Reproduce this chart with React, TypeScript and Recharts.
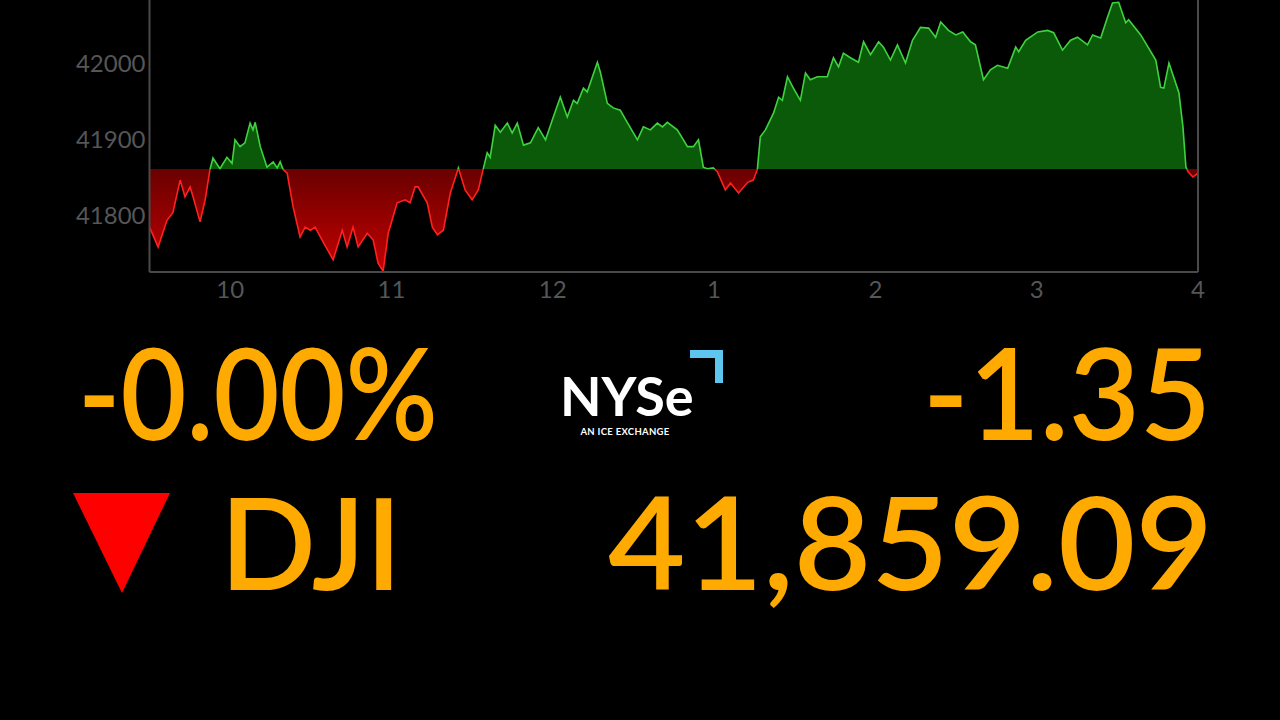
import React from 'react';
import { AreaChart, Area, XAxis, YAxis, ReferenceLine } from 'recharts';

// minutes since 9:30 open
const TIMES = [
  0, 3.2, 6.5, 8.7, 11.4, 13.2, 15.1, 16.2, 18.8, 20.7, 22.5, 23.6, 26.2, 28.8, 30.7, 31.8, 33.7, 35.5, 37.4, 38.5,
  39.3, 41.2, 43.7, 46.0, 47.5, 48.6, 49.7, 51.2, 53.4, 56.0, 57.9, 59.8, 61.6, 64.2, 68.3, 71.7, 73.5, 75.7, 77.6, 81.0,
  83.2, 85.0, 86.9, 88.8, 92.1, 95.1, 96.9, 98.8, 99.9, 103.3, 105.2, 107.1, 109.3, 111.9, 114.9, 117.4, 120.0, 122.3, 124.1, 125.6,
  126.7, 128.6, 130.5, 133.1, 134.9, 136.8, 139.1, 141.7, 144.6, 147.3, 150.2, 152.8, 155.4, 157.7, 159.1, 161.4, 162.8, 166.6, 167.7, 170.3,
  172.5, 175.1, 177.7, 181.5, 183.7, 186.3, 188.9, 190.8, 192.6, 196.3, 198.6, 200.1, 202.3, 204.2, 206.0, 207.5, 209.7, 211.2, 214.2, 216.1,
  219.1, 222.5, 224.6, 226.1, 227.2, 229.1, 232.1, 234.0, 235.4, 237.3, 239.5, 242.1, 244.0, 245.8, 248.4, 252.1, 254.4, 256.3, 258.1, 260.7,
  263.7, 265.6, 268.2, 271.2, 273.0, 275.6, 278.2, 281.2, 283.8, 286.8, 289.8, 292.4, 294.3, 297.2, 299.9, 302.5, 305.4, 307.2, 310.2, 312.8,
  315.4, 319.2, 322.2, 323.3, 325.9, 330.4, 334.1, 336.3, 339.6, 342.6, 345.2, 348.9, 350.8, 353.8, 356.4, 358.2, 360.5, 363.1, 364.2, 368.7,
  374.3, 376.1, 377.3, 379.2, 382.9, 384.4, 385.5, 386.3, 388.1, 390,
];

const VALUES = [
  41784, 41758, 41793, 41803, 41846, 41824, 41837, 41824, 41791, 41820, 41860, 41875, 41861, 41876, 41868, 41899, 41890, 41895, 41921, 41912,
  41922, 41890, 41863, 41870, 41862, 41870, 41860, 41855, 41811, 41771, 41784, 41780, 41784, 41767, 41741, 41780, 41758, 41784, 41758, 41776,
  41767, 41737, 41726, 41776, 41816, 41820, 41816, 41837, 41837, 41816, 41784, 41774, 41780, 41829, 41862, 41833, 41820, 41833, 41860, 41882,
  41876, 41918, 41909, 41921, 41908, 41921, 41892, 41895, 41915, 41899, 41929, 41955, 41929, 41951, 41947, 41967, 41962, 42001, 41988, 41947,
  41941, 41938, 41922, 41899, 41916, 41912, 41921, 41916, 41922, 41912, 41899, 41890, 41890, 41899, 41863, 41861, 41862, 41857, 41833, 41842,
  41829, 41843, 41846, 41860, 41903, 41912, 41934, 41955, 41951, 41982, 41967, 41951, 41987, 41978, 41982, 41982, 42007, 41995, 42013, 42007,
  42001, 42028, 42011, 42028, 42021, 42004, 42024, 42000, 42030, 42047, 42046, 42034, 42054, 42043, 42037, 42041, 42028, 42024, 41978, 41991,
  41997, 41993, 42021, 42015, 42030, 42041, 42043, 42040, 42017, 42030, 42034, 42024, 42037, 42033, 42061, 42079, 42080, 42053, 42057, 42037,
  42004, 41968, 41967, 42000, 41961, 41916, 41863, 41857, 41850, 41855,
];

const PREV_CLOSE = 41860.44;
const Y_DOMAIN = [41725, 42083];
const Y_TICKS = [41800, 41900, 42000];
const X_TICKS = [30, 90, 150, 210, 270, 330, 390];
const X_LABELS = ['10', '11', '12', '1', '2', '3', '4'];

const PCT_CHANGE = '-0.00%';
const NET_CHANGE = '-1.35';
const SYMBOL = 'DJI';
const LAST_PRICE = '41,859.09';

const data = TIMES.map((t, i) => ({ t, v: VALUES[i] }));

export default function App() {
  const vMax = Math.max(...VALUES);
  const vMin = Math.min(...VALUES);
  const off = (vMax - PREV_CLOSE) / (vMax - vMin);
  const font = 'Lato, "Open Sans", sans-serif';
  return (
    <div style={{ position: 'fixed', left: 0, top: 0, width: 1280, height: 720, background: '#000', overflow: 'hidden' }}>
      <div style={{ position: 'absolute', left: 0, top: 0 }}>
        <AreaChart width={1280} height={312} data={data} margin={{ top: 0, right: 82, left: 0, bottom: 0 }}>
          <defs>
            <linearGradient id="fillGrad" x1="0" y1="0" x2="0" y2="1">
              <stop offset={0} stopColor="#0a5a0a" />
              <stop offset={off} stopColor="#0a5a0a" />
              <stop offset={off} stopColor="#6a0000" />
              <stop offset={1} stopColor="#c40000" />
            </linearGradient>
            <linearGradient id="strokeGrad" x1="0" y1="0" x2="0" y2="1">
              <stop offset={0} stopColor="#3fd23f" />
              <stop offset={off} stopColor="#3fd23f" />
              <stop offset={off} stopColor="#ff2020" />
              <stop offset={1} stopColor="#ff2020" />
            </linearGradient>
          </defs>
          <XAxis
            dataKey="t"
            type="number"
            domain={[0, 390]}
            ticks={X_TICKS}
            tickFormatter={(v: number) => X_LABELS[X_TICKS.indexOf(v)] ?? ''}
            height={40}
            tickLine={false}
            tickSize={0}
            tickMargin={9}
            axisLine={{ stroke: '#4a4a4a', strokeWidth: 2 }}
            tick={{ fill: '#565656', fontSize: 24, fontFamily: font }}
            interval={0}
          />
          <YAxis
            type="number"
            domain={Y_DOMAIN}
            allowDataOverflow
            ticks={Y_TICKS}
            width={149.5}
            tickLine={false}
            tickSize={0}
            tickMargin={4}
            axisLine={{ stroke: '#4a4a4a', strokeWidth: 2 }}
            tick={{ fill: '#565656', fontSize: 24, fontFamily: font }}
          />
          <ReferenceLine x={390} stroke="#4a4a4a" strokeWidth={2} />
          <Area
            type="linear"
            dataKey="v"
            baseValue={PREV_CLOSE}
            stroke="url(#strokeGrad)"
            strokeWidth={1.6}
            fill="url(#fillGrad)"
            fillOpacity={1}
            isAnimationActive={false}
            dot={false}
            activeDot={false}
          />
        </AreaChart>
      </div>
      <svg width={1280} height={720} style={{ position: 'absolute', left: 0, top: 0, pointerEvents: 'none' }}>
        <g fontFamily={font} fill="#ffaa00" fontWeight={600}>
          <text x={78} y={440} fontSize={128} textLength={360} lengthAdjust="spacingAndGlyphs">{PCT_CHANGE}</text>
          <text x={923} y={440} fontSize={128} textLength={288} lengthAdjust="spacingAndGlyphs">{NET_CHANGE}</text>
          <text x={220} y={590} fontSize={128} textLength={182} lengthAdjust="spacingAndGlyphs">{SYMBOL}</text>
          <text x={608} y={590} fontSize={130} textLength={605} lengthAdjust="spacingAndGlyphs">{LAST_PRICE}</text>
        </g>
        <polygon points="73,493 170,493 122,593" fill="#ff0000" />
        <g fontFamily={font}>
          <text x={560} y={416} fontSize={54} fontWeight={700} fill="#ffffff">NYSe</text>
          <text x={625} y={435} fontSize={9.5} fontWeight={700} fill="#ffffff" textAnchor="middle" letterSpacing={0.3}>AN ICE EXCHANGE</text>
        </g>
        <path d="M690,350 L723,350 L723,383 L715,383 L715,358 L690,358 Z" fill="#5ec6ee" />
      </svg>
    </div>
  );
}
